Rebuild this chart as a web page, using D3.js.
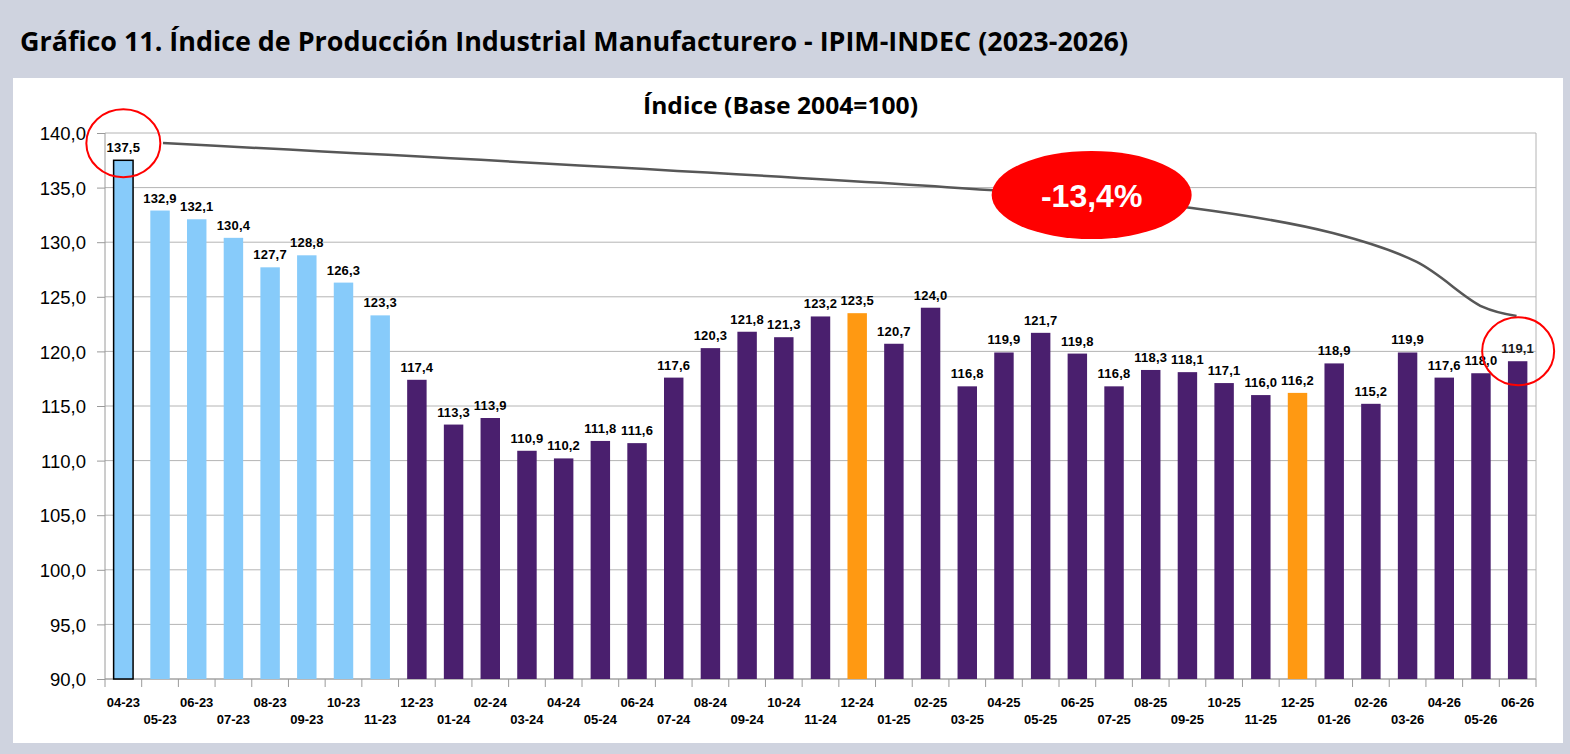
<!DOCTYPE html>
<html>
<head>
<meta charset="utf-8">
<script src="https://cdn.jsdelivr.net/npm/d3@7"></script>
<style>
  body { margin: 0; background: #cfd3df; }
  svg { display: block; }
  .axis-y text { font-family: "Liberation Sans", Arial, sans-serif; font-size: 18.5px; fill: #000; }
  .val { font-family: "Liberation Sans", Arial, sans-serif; font-size: 13px; font-weight: bold; fill: #000; letter-spacing: 0.2px; }
  .mes { font-family: "Liberation Sans", Arial, sans-serif; font-size: 13px; font-weight: bold; fill: #000; }
</style>
</head>
<body>
<svg id="chart" width="1570" height="754"></svg>
<script>
// meses (mm-aa)
const months = [
    '04-23', '05-23', '06-23', '07-23', '08-23', '09-23', '10-23', '11-23',
    '12-23', '01-24', '02-24', '03-24', '04-24', '05-24', '06-24', '07-24',
    '08-24', '09-24', '10-24', '11-24', '12-24', '01-25', '02-25', '03-25',
    '04-25', '05-25', '06-25', '07-25', '08-25', '09-25', '10-25', '11-25',
    '12-25', '01-26', '02-26', '03-26', '04-26', '05-26', '06-26'
]
// IPIM base 2004=100
const values = [
    137.5, 132.9, 132.1, 130.4, 127.7, 128.8, 126.3, 123.3,
    117.4, 113.3, 113.9, 110.9, 110.2, 111.8, 111.6, 117.6,
    120.3, 121.8, 121.3, 123.2, 123.5, 120.7, 124.0, 116.8,
    119.9, 121.7, 119.8, 116.8, 118.3, 118.1, 117.1, 116.0,
    116.2, 118.9, 115.2, 119.9, 117.6, 118.0, 119.1
]
const previousMonths = ['04-23', '05-23', '06-23', '07-23', '08-23', '09-23', '10-23', '11-23']
const decemberMonths = ['12-24', '12-25']
const yTicks = [90, 95, 100, 105, 110, 115, 120, 125, 130, 135, 140]
// curva de caida (indice de mes, valor)
const trendPts = [
    [1.08, 139.08], [23.6, 134.78], [29.12, 133.13], [32.96, 130.84],
    [35.25, 128.19], [37.05, 124.07], [37.97, 123.24]
]
const dropLabel = '-13,4%'

const svg = d3.select('#chart')
const fmt = v => d3.format('.1f')(v).replace('.', ',')

const plot = { left: 105, right: 1536, top: 133, bottom: 679 }

const x = d3.scaleBand()
    .domain(months)
    .range([plot.left, plot.right])
    .padding(0)
const xi = d3.scaleLinear()
    .domain([-0.5, months.length - 0.5])
    .range([plot.left, plot.right])
const y = d3.scaleLinear()
    .domain([90, 140])
    .range([plot.bottom, plot.top])

const barW = x.bandwidth() * 0.53

function barColor (m) {
    if (decemberMonths.includes(m)) return '#ff9912'
    if (previousMonths.includes(m)) return '#87cbfa'
    return '#4a1f6e'
}

// panel blanco
svg.append('rect')
    .attr('x', 13).attr('y', 78)
    .attr('width', 1550).attr('height', 665)
    .attr('fill', '#fff')

svg.append('text')
    .attr('x', 20).attr('y', 51)
    .attr('textLength', 1108)
    .attr('lengthAdjust', 'spacingAndGlyphs')
    .style('font-family', '"Open Sans", "Noto Sans", sans-serif')
    .style('font-size', '26px')
    .style('font-weight', 'bold')
    .text('Gráfico 11. Índice de Producción Industrial Manufacturero - IPIM-INDEC (2023-2026)')

svg.append('text')
    .attr('x', 643).attr('y', 114)
    .attr('textLength', 275)
    .attr('lengthAdjust', 'spacingAndGlyphs')
    .style('font-family', '"Open Sans", "Noto Sans", sans-serif')
    .style('font-size', '23px')
    .style('font-weight', 'bold')
    .text('Índice (Base 2004=100)')

// grilla
svg.append('g')
    .selectAll('line')
    .data(yTicks)
    .join('line')
    .attr('x1', plot.left).attr('x2', plot.right)
    .attr('y1', d => y(d)).attr('y2', d => y(d))
    .attr('stroke', '#b4b4b4')
    .attr('stroke-width', 1)

svg.append('line')
    .attr('x1', plot.right).attr('x2', plot.right)
    .attr('y1', plot.top).attr('y2', plot.bottom)
    .attr('stroke', '#b4b4b4')

// eje y
const gy = svg.append('g')
    .attr('class', 'axis-y')
    .attr('transform', `translate(${plot.left},0)`)
    .call(d3.axisLeft(y).tickValues(yTicks).tickFormat(fmt).tickSize(8).tickPadding(11))
gy.selectAll('line, path').attr('stroke', '#9a9a9a')
gy.select('.domain').attr('d', `M0,${plot.top}V${plot.bottom}`)
gy.selectAll('text').attr('dy', '0.36em')

// eje x: marcas entre meses
svg.append('g')
    .selectAll('line')
    .data(d3.range(months.length + 1))
    .join('line')
    .attr('x1', d => xi(d - 0.5)).attr('x2', d => xi(d - 0.5))
    .attr('y1', plot.bottom).attr('y2', plot.bottom + 8)
    .attr('stroke', '#9a9a9a')
svg.append('line')
    .attr('x1', plot.left).attr('x2', plot.right)
    .attr('y1', plot.bottom).attr('y2', plot.bottom)
    .attr('stroke', '#9a9a9a')

svg.append('g')
    .selectAll('text')
    .data(months)
    .join('text')
    .attr('class', 'mes')
    .attr('x', d => x(d) + x.bandwidth() / 2)
    .attr('y', (d, i) => i % 2 === 0 ? 707 : 724)
    .attr('text-anchor', 'middle')
    .text(d => d)

// barras
svg.append('g')
    .selectAll('rect')
    .data(months)
    .join('rect')
    .attr('x', d => x(d) + (x.bandwidth() - barW) / 2)
    .attr('width', barW)
    .attr('y', (d, i) => y(values[i]))
    .attr('height', (d, i) => y(90) - y(values[i]))
    .attr('fill', d => barColor(d))
    .attr('stroke', (d, i) => i === 0 ? '#000' : 'none')
    .attr('stroke-width', 1.5)

svg.append('g')
    .selectAll('text')
    .data(months)
    .join('text')
    .attr('class', 'val')
    .attr('x', d => x(d) + x.bandwidth() / 2)
    .attr('y', (d, i) => y(values[i]) - 8)
    .attr('text-anchor', 'middle')
    .style('fill', (d, i) => i === months.length - 1 ? '#1a1a1a' : '#000')
    .text((d, i) => fmt(values[i]))

// curva de variacion
const line = d3.line()
    .x(d => xi(d[0]))
    .y(d => y(d[1]))
    .curve(d3.curveCatmullRom.alpha(0.5))
svg.append('path')
    .datum(trendPts)
    .attr('d', line)
    .attr('fill', 'none')
    .attr('stroke', '#575757')
    .attr('stroke-width', 2.5)

// circulos en extremos
const first = months[0]
const last = months[months.length - 1]
svg.append('ellipse')
    .attr('cx', x(first) + x.bandwidth() / 2)
    .attr('cy', y(values[0]) - 17)
    .attr('rx', 37).attr('ry', 34)
    .attr('fill', 'none').attr('stroke', '#ff0000').attr('stroke-width', 2)
svg.append('ellipse')
    .attr('cx', x(last) + x.bandwidth() / 2 + 0.5)
    .attr('cy', y(values[values.length - 1]) - 10)
    .attr('rx', 36).attr('ry', 34)
    .attr('fill', 'none').attr('stroke', '#ff0000').attr('stroke-width', 2)

// burbuja con la variacion
const bx = xi(26.39)
const by = y(134.32)
svg.append('ellipse')
    .attr('cx', bx).attr('cy', by)
    .attr('rx', 100).attr('ry', 44)
    .attr('fill', '#ff0000')
svg.append('text')
    .attr('x', bx).attr('y', by + 12)
    .attr('text-anchor', 'middle')
    .style('font-family', '"Liberation Sans", Arial, sans-serif')
    .style('font-size', '32px')
    .style('font-weight', 'bold')
    .style('fill', '#fff')
    .text(dropLabel)
</script>
</body>
</html>
